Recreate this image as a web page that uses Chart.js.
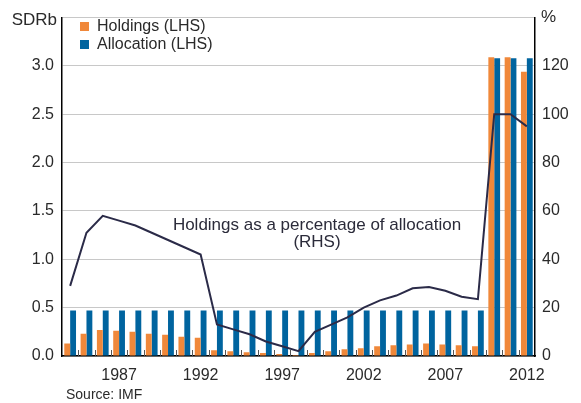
<!DOCTYPE html>
<html>
<head>
<meta charset="utf-8">
<script src="https://cdn.jsdelivr.net/npm/chart.js@4.4.1/dist/chart.umd.min.js"></script>
<style>
  html, body { margin: 0; padding: 0; background: #fff; }
  #wrap { width: 581px; height: 403px; }
</style>
</head>
<body>
<div id="wrap"><canvas id="c" width="581" height="403"></canvas></div>
<script>
// years on the x axis
var years = ['1984','1985','1986','1987','1988','1989','1990','1991','1992','1993',
  '1994','1995','1996','1997','1998','1999','2000','2001','2002','2003',
  '2004','2005','2006','2007','2008','2009','2010','2011','2012'];
// SDR billions (LHS)
var holdings = [0.13,0.23,0.27,0.26,0.25,0.23,0.22,0.20,0.19,0.06,
  0.05,0.04,0.03,0.02,0.01,0.03,0.05,0.07,0.08,0.10,
  0.11,0.12,0.13,0.12,0.11,0.10,3.09,3.09,2.94];
var allocation = [0.47,0.47,0.47,0.47,0.47,0.47,0.47,0.47,0.47,0.47,
  0.47,0.47,0.47,0.47,0.47,0.47,0.47,0.47,0.47,0.47,
  0.47,0.47,0.47,0.47,0.47,0.47,3.08,3.08,3.08];
// per cent (RHS)
var pctOfAlloc = [29,51,58,56,54,51,48,45,42,13,
  11,9,6,4,2,10,13,16,20,23,
  25,28,28.5,27,24.5,23.5,100,100,95];
var leftTicks = [0, 0.5, 1.0, 1.5, 2.0, 2.5, 3.0];
var rightTicks = [0, 20, 40, 60, 80, 100, 120];

var ORANGE = '#F0883A';
var BLUE = '#00649F';
var LINE = '#2B2B48';
var TEXT = '#2a2a2a';
var FONT = '"Liberation Sans", Arial, sans-serif';

// extra bits: axis units, legend, note, source, inner ticks
var extras = {
  id: 'extras',
  afterDraw: function(chart) {
    var ctx = chart.ctx;
    var area = chart.chartArea;
    var x = chart.scales.x;
    ctx.save();
    // little ticks between categories on the bottom axis
    ctx.strokeStyle = '#555';
    ctx.lineWidth = 1;
    for (var i = 1; i < years.length; i++) {
      var px = Math.round((x.getPixelForValue(i - 1) + x.getPixelForValue(i)) / 2) + 0.5;
      ctx.beginPath();
      ctx.moveTo(px, area.bottom);
      ctx.lineTo(px, area.bottom - 6);
      ctx.stroke();
    }
    ctx.fillStyle = TEXT;
    ctx.textBaseline = 'middle';
    ctx.font = '17px ' + FONT;
    ctx.textAlign = 'right';
    ctx.fillText('SDRb', 57, 20);
    ctx.textAlign = 'left';
    ctx.fillText('%', 541, 17);
    // legend
    ctx.font = '16px ' + FONT;
    ctx.fillStyle = ORANGE;
    ctx.fillRect(80, 22, 9, 9);
    ctx.fillStyle = BLUE;
    ctx.fillRect(80, 40, 9, 9);
    ctx.fillStyle = TEXT;
    ctx.fillText('Holdings (LHS)', 97, 27);
    ctx.fillText('Allocation (LHS)', 97, 45);
    // line note
    ctx.font = '17px ' + FONT;
    ctx.textAlign = 'center';
    ctx.fillStyle = '#2b2b3a';
    ctx.fillText('Holdings as a percentage of allocation', 317, 225);
    ctx.fillText('(RHS)', 317, 242);
    // source
    ctx.font = '14px ' + FONT;
    ctx.textAlign = 'left';
    ctx.fillStyle = TEXT;
    ctx.fillText('Source: IMF', 66, 395);
    ctx.restore();
  }
};

new Chart(document.getElementById('c'), {
  type: 'bar',
  data: {
    labels: years,
    datasets: [
      { type: 'line', label: 'Holdings as a percentage of allocation (RHS)', data: pctOfAlloc,
        yAxisID: 'y2', borderColor: LINE, borderWidth: 2, pointRadius: 0, tension: 0, order: 0 },
      { label: 'Holdings (LHS)', data: holdings, backgroundColor: ORANGE, yAxisID: 'y',
        categoryPercentage: 0.72, barPercentage: 1.0, order: 1 },
      { label: 'Allocation (LHS)', data: allocation, backgroundColor: BLUE, yAxisID: 'y',
        categoryPercentage: 0.72, barPercentage: 1.0, order: 1 }
    ]
  },
  options: {
    responsive: false,
    animation: false,
    devicePixelRatio: 1,
    layout: { padding: { top: 7, left: 0, right: 0, bottom: 0 } },
    plugins: { legend: { display: false }, tooltip: { enabled: false } },
    scales: {
      x: {
        grid: { display: false, drawTicks: false },
        border: { color: '#000', width: 1.5 },
        afterFit: function(s) { s.height = 47; },
        ticks: {
          autoSkip: false, maxRotation: 0, padding: 10,
          color: TEXT, font: { family: FONT, size: 16 },
          callback: function(v) {
            var y = this.getLabelForValue(v);
            return (parseInt(y, 10) % 5 === 2) ? y : '';
          }
        }
      },
      y: {
        position: 'left', min: 0, max: 3.5,
        afterFit: function(s) { s.width = 62; },
        afterBuildTicks: function(s) {
          s.ticks = leftTicks.concat([3.5]).map(function(v) { return { value: v }; });
        },
        grid: { color: '#c8c8c8', lineWidth: 1, drawTicks: false },
        border: { color: '#000', width: 1.5 },
        ticks: {
          padding: 8, color: TEXT, font: { family: FONT, size: 16 },
          callback: function(v) { return v > 3.01 ? '' : v.toFixed(1); }
        }
      },
      y2: {
        position: 'right', min: 0, max: 140,
        afterFit: function(s) { s.width = 46; },
        afterBuildTicks: function(s) {
          s.ticks = rightTicks.concat([140]).map(function(v) { return { value: v }; });
        },
        grid: { drawOnChartArea: false, drawTicks: false },
        border: { color: '#000', width: 1.5 },
        ticks: {
          padding: 7, color: TEXT, font: { family: FONT, size: 16 },
          callback: function(v) { return v > 121 ? '' : String(v); }
        }
      }
    }
  },
  plugins: [extras]
});
</script>
</body>
</html>
